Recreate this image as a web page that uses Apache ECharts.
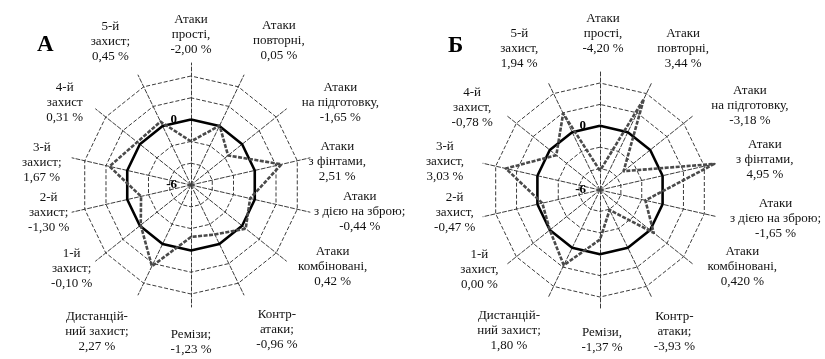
<!DOCTYPE html>
<html>
<head>
<meta charset="utf-8">
<script src="https://cdn.jsdelivr.net/npm/echarts@6/dist/echarts.min.js"></script>
<style>
  html, body { margin: 0; padding: 0; background: #fff; }
  #chart { width: 825px; height: 359px; }
</style>
</head>
<body>
<div id="chart"></div>
<script>
// Technique categories, listed clockwise starting from the top axis
const categoriesA = [
  'Атаки\nпрості,', 'Атаки\nповторні,', 'Атаки\nна підготовку,', 'Атаки\nз фінтами,',
  'Атаки\nз дією на зброю;', 'Атаки\nкомбіновані,', 'Контр-\nатаки;', 'Ремізи;',
  'Дистанцій-\nний захист;', '1-й\nзахист;', '2-й\nзахист;', '3-й\nзахист;',
  '4-й\nзахист', '5-й\nзахист;'
];
const categoriesB = [
  'Атаки\nпрості,', 'Атаки\nповторні,', 'Атаки\nна підготовку,', 'Атаки\nз фінтами,',
  'Атаки\nз дією на зброю;', 'Атаки\nкомбіновані,', 'Контр-\nатаки;', 'Ремізи,',
  'Дистанцій-\nний захист;', '1-й\nзахист,', '2-й\nзахист,', '3-й\nзахист,',
  '4-й\nзахист,', '5-й\nзахист,'
];

// Change, %, per category
const valuesA = [-2.00, 0.05, -1.65, 2.51, -0.44, 0.42, -0.96, -1.23, 2.27, -0.10, -1.30, 1.67, 0.31, 0.45];
const valuesB = [-4.20, 3.44, -3.18, 4.95, -1.65, 0.420, -3.93, -1.37, 1.80, 0.00, -0.47, 3.03, -0.78, 1.94];
const decimalsA = [2, 2, 2, 2, 2, 2, 2, 2, 2, 2, 2, 2, 2, 2];
const decimalsB = [2, 2, 2, 2, 2, 3, 2, 2, 2, 2, 2, 2, 2, 2];

// Zero reference ring
const baseline = [0, 0, 0, 0, 0, 0, 0, 0, 0, 0, 0, 0, 0, 0];

// Value scale of the radial axes
const axisMin = -6;
const axisMax = 4;
const tickLabels = ['-6', '0'];

// Label placement: distance past the leader end and a small nudge [dx, dy]
const nameGapA = [28, 46, 46, 26, 49, 40, 46, 35, 51, 23, 23, 29, 28, 43];
const nudgeA = [[0, 0], [15, 7], [18, 22], [2, 10], [2, -11], [15, -19], [13, -7], [0, 0],
                [-19, -9], [-6, -7], [-1, -5], [-2, 11], [-9, 11], [-9, 5]];
const nameGapB = [36, 44, 50, 47, 60, 39, 40, 30, 46, 24, 27, 37, 32, 43];
const nudgeB = [[3, 0], [12, 6], [17, 22], [2, 7], [0, -11], [18, -23], [5, -3], [2, 0],
                [-19, -9], [-8, -10], [-2, -10], [-2, 7], [-9, 12], [-10, 5]];

const FONT = 'Liberation Serif, Times New Roman, serif';
const LINE_H = 15;
const n = categoriesA.length;
// ECharts lays indicators out counter-clockwise; reorder clockwise lists to match
const radarOrder = [0].concat(Array.from({ length: n - 1 }, (_, i) => n - 1 - i));
const reorder = arr => radarOrder.map(k => arr[k]);

const fmt = (v, d) => v.toFixed(d).replace('.', ',') + ' %';
// Text is top-anchored, so the top padding centres the block on the anchor plus the nudge
function pad(text, [dx, dy]) {
  const h = text.split('\n').length * LINE_H;
  return [dy - h / 2, Math.max(0, -2 * dx), 0, Math.max(0, 2 * dx)];
}

const gridLine = { color: '#3c3c3c', width: 1, type: [4, 2] };

function gridRadar(center, radius) {
  return {
    center: center,
    radius: radius,
    startAngle: 90,
    splitNumber: 5,
    shape: 'polygon',
    indicator: radarOrder.map((k, j) => ({
      name: '',
      min: axisMin,
      max: axisMax,
      axisLabel: j === 0 ? {
        show: true,
        color: '#000',
        fontFamily: FONT,
        fontSize: 13,
        fontWeight: 'bold',
        margin: 14,
        formatter: v => (tickLabels.indexOf(String(v)) >= 0 ? String(v) : '')
      } : { show: false }
    })),
    axisName: { show: false },
    axisLine: { show: false },
    axisTick: { show: false },
    splitLine: { lineStyle: gridLine },
    splitArea: { show: false }
  };
}

function labelRadar(center, radius, cats, vals, decs, gaps, nudges) {
  return {
    center: center,
    radius: radius,
    startAngle: 90,
    splitNumber: 1,
    shape: 'polygon',
    indicator: radarOrder.map(k => {
      const text = cats[k] + '\n' + fmt(vals[k], decs[k]);
      return {
        name: text,
        min: axisMin,
        max: axisMax,
        nameGap: gaps[k],
        nameTextStyle: { padding: pad(text, nudges[k]) }
      };
    }),
    axisName: {
      show: true,
      color: '#111',
      fontFamily: FONT,
      fontSize: 13,
      lineHeight: LINE_H,
      align: 'center',
      verticalAlign: 'top'
    },
    axisLine: { lineStyle: gridLine },
    axisTick: { show: false },
    splitLine: { show: false },
    splitArea: { show: false }
  };
}

const zeroStyle = { color: '#000', width: 2.6 };
const dataStyle = { color: '#4a4a4a', width: 2.6, type: [4, 1.5] };

const option = {
  animation: false,
  backgroundColor: '#fff',
  title: [
    { text: 'А', left: 32, top: 29, textStyle: { fontFamily: FONT, fontSize: 23, fontWeight: 'bold', color: '#000' } },
    { text: 'Б', left: 443, top: 30, textStyle: { fontFamily: FONT, fontSize: 23, fontWeight: 'bold', color: '#000' } }
  ],
  radar: [
    gridRadar([191, 185], 109),
    labelRadar([191, 185], 122, categoriesA, valuesA, decimalsA, nameGapA, nudgeA),
    gridRadar([600, 190], 107),
    labelRadar([600, 190], 120, categoriesB, valuesB, decimalsB, nameGapB, nudgeB)
  ],
  series: [
    { type: 'radar', radarIndex: 0, symbol: 'none', silent: true,
      data: [{ value: reorder(baseline), lineStyle: zeroStyle }] },
    { type: 'radar', radarIndex: 0, symbol: 'none', silent: true,
      data: [{ value: reorder(valuesA), lineStyle: dataStyle }] },
    { type: 'radar', radarIndex: 2, symbol: 'none', silent: true,
      data: [{ value: reorder(baseline), lineStyle: zeroStyle }] },
    { type: 'radar', radarIndex: 2, symbol: 'none', silent: true,
      data: [{ value: reorder(valuesB), lineStyle: dataStyle }] }
  ]
};

const chart = echarts.init(document.getElementById('chart'), null, { renderer: 'canvas' });
chart.setOption(option);
</script>
</body>
</html>
